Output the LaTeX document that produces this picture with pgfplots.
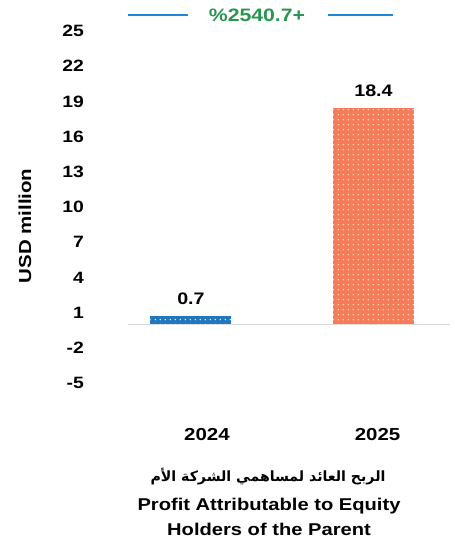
\documentclass[border=0pt]{standalone}
\usepackage{fontspec}
\setmainfont{Liberation Sans}[FakeStretch=1.18]
\newfontfamily\arabicfont[Script=Arabic]{DejaVu Sans}
\TeXXeTstate=1
\usepackage{pgfplots}
\pgfplotsset{compat=1.18}
\usetikzlibrary{patterns}

\pgfdeclarepatternformonly{sparsedots}{\pgfpointorigin}{\pgfqpoint{3.6pt}{3.6pt}}%
  {\pgfqpoint{3.6pt}{3.6pt}}%
  {\pgfpathcircle{\pgfqpoint{1.8pt}{1.8pt}}{0.6pt}\pgfusepath{fill}}

\definecolor{barBlue}{RGB}{34,118,190}
\definecolor{barSalmon}{RGB}{244,124,90}
\definecolor{dotSalmon}{RGB}{255,226,185}
\definecolor{dotBlue}{RGB}{225,240,252}
\definecolor{txtGreen}{RGB}{40,150,80}
\definecolor{lineBlue}{RGB}{28,136,215}

\begin{document}
\begin{tikzpicture}
% page = 454 x 543 px, 1 px = 0.75pt
\path[use as bounding box] (0,0) rectangle (340.5pt,407.25pt);

\begin{axis}[
    at={(96pt,120pt)}, anchor=south west,
    scale only axis,
    width=241.5pt, height=264pt,
    xmin=-0.345, xmax=1.419,
    ymin=-5, ymax=25,
    ytick={-5,-2,...,25},
    xtick={0,1},
    xticklabels={\hspace*{18pt}2024, 2025},
    axis line style={draw=none},
    major tick length=0pt,
    /pgf/number format/assume math mode=true,
    ticklabel style={font=\bfseries\fontsize{12.3}{14}\selectfont, black},
    yticklabel style={xshift=-29.5pt},
    xticklabel style={font=\bfseries\fontsize{13}{15}\selectfont, yshift=-30.5pt, xshift=3pt},
    extra y ticks={0},
    extra y tick labels={},
    extra y tick style={grid=major, major grid style={gray!30, line width=0.6pt}},
    ylabel={USD million},
    ylabel style={at={(rel axis cs:-0.32,0.446)}, anchor=center,
        font=\bfseries\fontsize{13}{15}\selectfont},
    ybar, bar width=60.75pt, bar shift=0pt,
    nodes near coords,
    nodes near coords style={font=\bfseries\fontsize{12.5}{15}\selectfont, black, yshift=5pt},
    clip=false,
]
\addplot[bar shift=0pt, fill=barBlue, draw=none,
    postaction={pattern=sparsedots, pattern color=dotBlue}]
    coordinates {(0,0.7)};
\addplot[bar shift=0pt, fill=barSalmon, draw=none,
    postaction={pattern=sparsedots, pattern color=dotSalmon}]
    coordinates {(1,18.4)};
\end{axis}

% growth annotation at the top
\draw[lineBlue, line width=1.5pt] (96pt,396pt) -- (141pt,396pt);
\draw[lineBlue, line width=1.5pt] (246pt,396pt) -- (294.75pt,396pt);
\node[txtGreen, font=\bfseries\fontsize{13.5}{15}\selectfont] at (192.75pt,396pt) {\%2540.7+};

% caption below the chart
\node[font=\arabicfont\bfseries\fontsize{10.6}{15}\selectfont] at (201pt,49.5pt)
    {\beginR الربح العائد لمساهمي الشركة الأم\endR};
\node[font=\bfseries\fontsize{12.8}{15}\selectfont] at (201.75pt,27.75pt) {Profit Attributable to Equity};
\node[font=\bfseries\fontsize{12.8}{15}\selectfont] at (201.75pt,10.5pt) {Holders of the Parent};
\end{tikzpicture}
\end{document}
